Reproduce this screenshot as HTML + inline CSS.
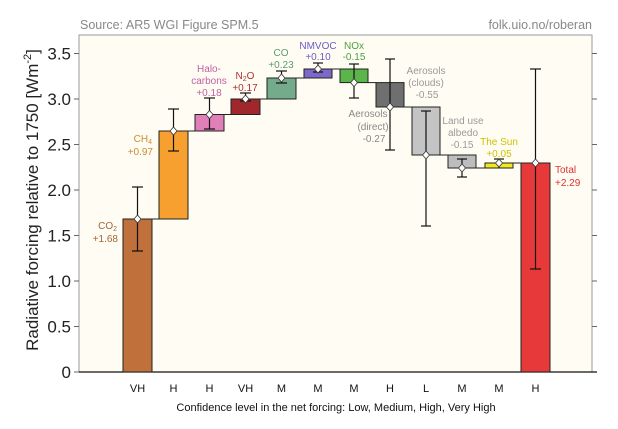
<!DOCTYPE html>
<html><head><meta charset="utf-8"><style>
html,body{margin:0;padding:0;background:#fff;}
svg{display:block;font-family:"Liberation Sans",sans-serif;}
</style></head><body>
<svg width="618" height="429" viewBox="0 0 618 429" xmlns="http://www.w3.org/2000/svg">
<text x="80" y="29" font-size="12.5" fill="#888">Source: AR5 WGI Figure SPM.5</text>
<text x="592" y="29" font-size="12.5" fill="#888" text-anchor="end">folk.uio.no/roberan</text>
<rect x="79" y="35" width="513" height="337" fill="#fffdf3" stroke="#999" stroke-width="1"/>
<line x1="79" y1="372" x2="597" y2="372" stroke="#111" stroke-width="1.3"/>
<g stroke="#666" stroke-width="1">
<line x1="74" y1="372" x2="79" y2="372"/><line x1="74" y1="326.5" x2="79" y2="326.5"/><line x1="74" y1="281" x2="79" y2="281"/><line x1="74" y1="235.5" x2="79" y2="235.5"/><line x1="74" y1="190" x2="79" y2="190"/><line x1="74" y1="144.5" x2="79" y2="144.5"/><line x1="74" y1="99" x2="79" y2="99"/><line x1="74" y1="53.5" x2="79" y2="53.5"/>
<line x1="592" y1="326.5" x2="597" y2="326.5"/><line x1="592" y1="281" x2="597" y2="281"/><line x1="592" y1="235.5" x2="597" y2="235.5"/><line x1="592" y1="190" x2="597" y2="190"/><line x1="592" y1="144.5" x2="597" y2="144.5"/><line x1="592" y1="99" x2="597" y2="99"/><line x1="592" y1="53.5" x2="597" y2="53.5"/>
</g>
<g font-size="17" fill="#222" text-anchor="end">
<text x="71" y="378">0</text><text x="71" y="332.5">0.5</text><text x="71" y="287">1.0</text><text x="71" y="241.5">1.5</text><text x="71" y="196">2.0</text><text x="71" y="150.5">2.5</text><text x="71" y="105">3.0</text><text x="71" y="59.5">3.5</text>
</g>
<text transform="translate(38,200) rotate(-90)" font-size="17" fill="#222" text-anchor="middle">Radiative forcing relative to 1750 [Wm<tspan dy="-7" font-size="11">-2</tspan><tspan dy="7">]</tspan></text>
<!-- connectors -->
<g stroke="#222" stroke-width="1">
<line x1="152" y1="219" x2="159" y2="219"/><line x1="188" y1="131" x2="195" y2="131"/><line x1="224" y1="114.5" x2="231" y2="114.5"/><line x1="260" y1="99" x2="267" y2="99"/><line x1="296" y1="78" x2="304" y2="78"/><line x1="332" y1="69" x2="340" y2="69"/><line x1="368" y1="82.6" x2="376" y2="82.6"/><line x1="404" y1="107" x2="412" y2="107"/><line x1="440" y1="155" x2="448" y2="155"/><line x1="476" y1="168" x2="485" y2="168"/><line x1="513" y1="163" x2="521" y2="163"/>
</g>
<!-- bars -->
<g stroke="#222" stroke-width="1">
<rect x="123" y="219" width="29" height="153" fill="#c0703a"/>
<rect x="159" y="131" width="29" height="88" fill="#f7a030"/>
<rect x="195" y="114.5" width="29" height="16.5" fill="#e07fb8"/>
<rect x="231" y="99" width="29" height="15.5" fill="#a0282d"/>
<rect x="267" y="78" width="29" height="21" fill="#74ab8a"/>
<rect x="304" y="69" width="28" height="9" fill="#7b68c8"/>
<rect x="340" y="69" width="28" height="13.6" fill="#5bb54a"/>
<rect x="376" y="82.6" width="28" height="24.4" fill="#6f6f6f"/>
<rect x="412" y="107" width="28" height="48" fill="#c4c4c4"/>
<rect x="448" y="155" width="28" height="13" fill="#bdbdbd"/>
<rect x="485" y="163" width="28" height="5" fill="#f2e81e"/>
<rect x="521" y="163" width="29" height="209" fill="#e8393a"/>
</g>
<!-- error bars -->
<g stroke="#111" stroke-width="1.2">
<line x1="137.5" y1="187" x2="137.5" y2="251"/><line x1="132" y1="187" x2="143" y2="187"/><line x1="132" y1="251" x2="143" y2="251"/>
<line x1="173.5" y1="109" x2="173.5" y2="151"/><line x1="168" y1="109" x2="179" y2="109"/><line x1="168" y1="151" x2="179" y2="151"/>
<line x1="209.5" y1="98" x2="209.5" y2="129"/><line x1="204" y1="98" x2="215" y2="98"/><line x1="204" y1="129" x2="215" y2="129"/>
<line x1="245.5" y1="93" x2="245.5" y2="101"/><line x1="240" y1="93" x2="251" y2="93"/><line x1="240" y1="101" x2="251" y2="101"/>
<line x1="281.5" y1="71" x2="281.5" y2="83"/><line x1="276" y1="71" x2="287" y2="71"/><line x1="276" y1="83" x2="287" y2="83"/>
<line x1="318" y1="63" x2="318" y2="72"/><line x1="313" y1="63" x2="323" y2="63"/><line x1="313" y1="72" x2="323" y2="72"/>
<line x1="354" y1="64" x2="354" y2="98"/><line x1="349" y1="64" x2="359" y2="64"/><line x1="349" y1="98" x2="359" y2="98"/>
<line x1="390" y1="59" x2="390" y2="150"/><line x1="385" y1="59" x2="395" y2="59"/><line x1="385" y1="150" x2="395" y2="150"/>
<line x1="426" y1="111" x2="426" y2="226"/><line x1="421" y1="111" x2="431" y2="111"/><line x1="421" y1="226" x2="431" y2="226"/>
<line x1="462" y1="159" x2="462" y2="177"/><line x1="457" y1="159" x2="467" y2="159"/><line x1="457" y1="177" x2="467" y2="177"/>
<line x1="499" y1="159" x2="499" y2="168"/><line x1="494" y1="159" x2="504" y2="159"/>
<line x1="535.5" y1="69" x2="535.5" y2="269"/><line x1="530" y1="69" x2="541" y2="69"/><line x1="530" y1="269" x2="541" y2="269"/>
</g>
<!-- markers -->
<g fill="#fff" stroke="#333" stroke-width="0.8">
<path d="M137.5 215l3.5 4-3.5 4-3.5-4z"/><path d="M173.5 127l3.5 4-3.5 4-3.5-4z"/><path d="M209.5 110.5l3.5 4-3.5 4-3.5-4z"/><path d="M245.5 95l3.5 4-3.5 4-3.5-4z"/><path d="M281.5 74l3.5 4-3.5 4-3.5-4z"/><path d="M318 65l3.5 4-3.5 4-3.5-4z"/><path d="M354 78.6l3.5 4-3.5 4-3.5-4z"/><path d="M390 103l3.5 4-3.5 4-3.5-4z"/><path d="M426 151l3.5 4-3.5 4-3.5-4z"/><path d="M462 164l3.5 4-3.5 4-3.5-4z"/><path d="M499 159l3.5 4-3.5 4-3.5-4z"/><path d="M535.5 159l3.5 4-3.5 4-3.5-4z"/>
</g>
<!-- labels -->
<g font-size="10">
<text x="117" y="229" fill="#a0673a" text-anchor="end">CO<tspan font-size="7" dy="2">2</tspan></text>
<text x="118" y="242" fill="#a0673a" text-anchor="end">+1.68</text>
<text x="152" y="142" fill="#d08a30" text-anchor="end">CH<tspan font-size="7" dy="2">4</tspan></text>
<text x="153" y="155" fill="#d08a30" text-anchor="end">+0.97</text>
<g fill="#c060a0" text-anchor="middle"><text x="209" y="72">Halo-</text><text x="209" y="84">carbons</text><text x="209" y="96">+0.18</text></g>
<g fill="#b03030" text-anchor="middle"><text x="245" y="79">N<tspan font-size="7" dy="2">2</tspan><tspan dy="-2">O</tspan></text><text x="245" y="91">+0.17</text></g>
<g fill="#5a9a70" text-anchor="middle"><text x="281" y="56">CO</text><text x="281" y="68">+0.23</text></g>
<g fill="#6a5ac8" text-anchor="middle"><text x="318" y="49">NMVOC</text><text x="318" y="60">+0.10</text></g>
<g fill="#4aa040" text-anchor="middle"><text x="354" y="49">NOx</text><text x="354" y="60">-0.15</text></g>
<g fill="#888" text-anchor="middle"><text x="368" y="117">Aerosols</text><text x="373" y="130">(direct)</text><text x="374" y="142">-0.27</text></g>
<g fill="#999" text-anchor="middle"><text x="426" y="74">Aerosols</text><text x="426" y="86">(clouds)</text><text x="427" y="98">-0.55</text></g>
<g fill="#999" text-anchor="middle"><text x="463" y="124">Land use</text><text x="463" y="136">albedo</text><text x="462" y="148">-0.15</text></g>
<g fill="#d0c000" text-anchor="middle"><text x="499" y="145">The Sun</text><text x="499" y="157">+0.05</text></g>
<g fill="#e03030"><text x="555" y="173">Total</text><text x="555" y="186">+2.29</text></g>
</g>
<g font-size="11" fill="#111" text-anchor="middle">
<text x="137.5" y="392">VH</text><text x="173.5" y="392">H</text><text x="209.5" y="392">H</text><text x="245.5" y="392">VH</text><text x="281.5" y="392">M</text><text x="318" y="392">M</text><text x="354" y="392">M</text><text x="390" y="392">H</text><text x="426" y="392">L</text><text x="462" y="392">M</text><text x="499" y="392">M</text><text x="535.5" y="392">H</text>
</g>
<text x="336" y="411" font-size="11" fill="#111" text-anchor="middle">Confidence level in the net forcing: Low, Medium, High, Very High</text>
</svg>
</body></html>
